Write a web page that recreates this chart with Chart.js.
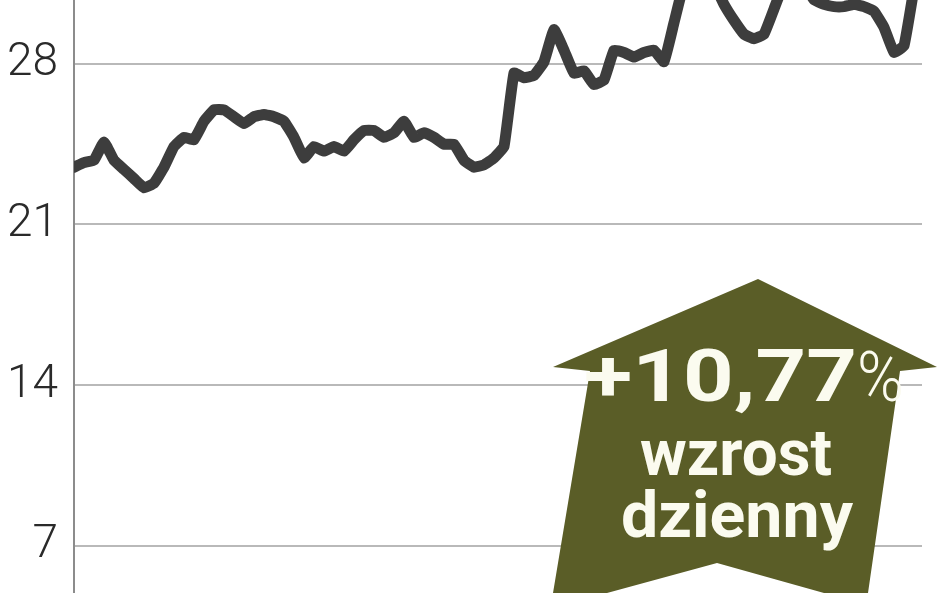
<!DOCTYPE html>
<html>
<head>
<meta charset="utf-8">
<script src="https://cdn.jsdelivr.net/npm/chart.js@4"></script>
<style>
  html, body { margin: 0; padding: 0; background: #fff; }
  #wrap { width: 948px; height: 593px; position: relative; }
</style>
</head>
<body>
<div id="wrap"><canvas id="c"></canvas></div>
<script>
// price readings, one every ~10px of the original picture
var prices = [
  23.5, 23.7, 23.8, 24.6, 23.8, 23.4, 23.0, 22.6, 22.8, 23.5,
  24.4, 24.8, 24.7, 25.5, 26.0, 26.0, 25.7, 25.4, 25.7, 25.8,
  25.7, 25.5, 24.8, 23.9, 24.4, 24.2, 24.4, 24.2, 24.7, 25.1,
  25.1, 24.8, 25.0, 25.5, 24.8, 25.0, 24.8, 24.5, 24.5, 23.8,
  23.5, 23.6, 23.9, 24.4, 27.6, 27.4, 27.5, 28.1, 29.5, 28.6,
  27.6, 27.7, 27.1, 27.3, 28.6, 28.5, 28.3, 28.5, 28.6, 28.1,
  29.8, 31.5, 32.0, 32.0, 31.5, 30.6, 29.9, 29.3, 29.1, 29.3,
  30.4, 31.5, 31.8, 31.5, 30.8, 30.6, 30.5, 30.5, 30.6, 30.5,
  30.3, 29.6, 28.5, 28.8, 31.3
];
var yTicks = [7, 14, 21, 28];
var badgeMain = '+10,77';
var badgePct = '%';
var badgeLines = ['wzrost', 'dzienny'];

var points = prices.map(function(v, i){ return {x: i, y: v}; });

// squeeze text horizontally so it fills a given width (condensed look)
function squeezed(ctx, text, font, left, right, baseline){
  ctx.font = font;
  var w = ctx.measureText(text).width;
  var sx = (right - left) / w;
  ctx.save();
  ctx.translate(left, baseline);
  ctx.scale(sx, 1);
  ctx.textAlign = 'left';
  ctx.fillText(text, 0, 0);
  ctx.restore();
}

var arrowPlugin = {
  id: 'arrow',
  afterDraw: function(chart){
    var ctx = chart.ctx;
    ctx.save();
    ctx.fillStyle = '#5a5d27';
    ctx.beginPath();
    ctx.moveTo(758, 279);
    ctx.lineTo(937, 367);
    ctx.lineTo(900, 371);
    ctx.lineTo(868, 593);
    ctx.lineTo(824, 593);
    ctx.lineTo(717, 563);
    ctx.lineTo(607, 593);
    ctx.lineTo(553, 593);
    ctx.lineTo(590, 371);
    ctx.lineTo(553, 367);
    ctx.closePath();
    ctx.fill();

    ctx.fillStyle = '#fbfbef';
    ctx.textBaseline = 'alphabetic';
    squeezed(ctx, badgeMain, 'bold 72px Roboto, "DejaVu Sans", sans-serif', 584, 857, 401);
    squeezed(ctx, badgePct, '300 70px Roboto, "DejaVu Sans", sans-serif', 857, 904, 401);
    squeezed(ctx, badgeLines[0], 'bold 64px Roboto, "DejaVu Sans", sans-serif', 640, 832, 475);
    squeezed(ctx, badgeLines[1], 'bold 64px Roboto, "DejaVu Sans", sans-serif', 621, 853, 537);
    ctx.restore();
  }
};

new Chart(document.getElementById('c'), {
  type: 'line',
  data: {
    datasets: [{
      data: points,
      borderColor: '#3d3d3d',
      borderWidth: 11,
      borderJoinStyle: 'round',
      borderCapStyle: 'round',
      pointRadius: 0,
      tension: 0.1,
      fill: false
    }]
  },
  options: {
    responsive: true,
    maintainAspectRatio: false,
    animation: false,
    layout: { padding: { left: 0, right: 26, top: 0, bottom: 0 } },
    plugins: { legend: { display: false }, tooltip: { enabled: false } },
    scales: {
      x: {
        type: 'linear',
        display: false,
        min: 0,
        max: 84.8
      },
      y: {
        min: 4.93,
        max: 30.79,
        afterBuildTicks: function(scale){
          scale.ticks = yTicks.map(function(v){ return {value: v}; });
        },
        afterFit: function(scale){
          scale.width = 74;
          scale.paddingTop = 0;
          scale.paddingBottom = 0;
        },
        border: { display: true, color: '#8c8c8c', width: 2 },
        grid: { color: '#b9b9b9', lineWidth: 2, drawTicks: false },
        ticks: {
          padding: 16,
          color: '#2a2a2a',
          font: { family: 'Roboto', weight: '300', size: 46 }
        }
      }
    }
  },
  plugins: [arrowPlugin]
});
</script>
</body>
</html>
